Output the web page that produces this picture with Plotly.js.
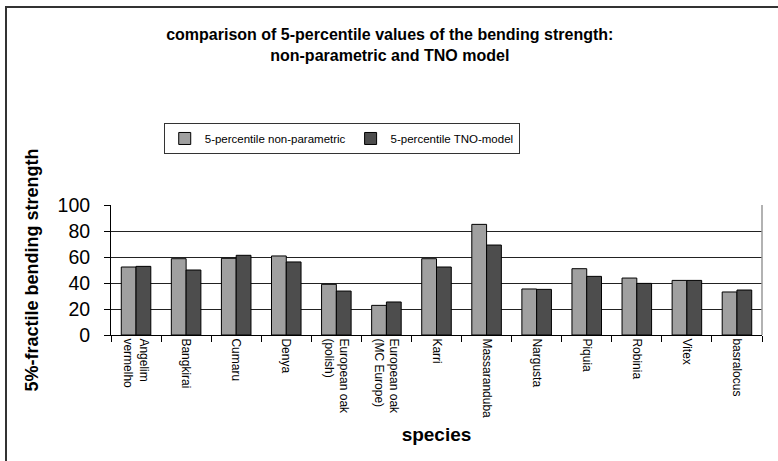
<!DOCTYPE html>
<html>
<head>
<meta charset="utf-8">
<script src="https://cdn.plot.ly/plotly-3.0.1.min.js"></script>
<style>
  html, body { margin: 0; padding: 0; background: #fff; overflow: hidden; }
  #wrap { position: relative; width: 778px; height: 461px; }
  #chart { position: absolute; left: 0; top: 0; width: 778px; height: 461px; }
  #frame { position: absolute; left: 5px; top: 6px; width: 800px; height: 500px;
           border-left: 2px solid #333; border-top: 2px solid #333; pointer-events: none; }
</style>
</head>
<body>
<div id="wrap">
  <div id="chart"></div>
  <div id="frame"></div>
</div>
<script>
const categories = [
  "Angelim<br>vermelho", "Bangkirai", "Cumaru", "Denya",
  "European oak<br>(polish)", "European oak<br>(MC Europe)", "Karri",
  "Massaranduba", "Nargusta", "Piquia", "Robinia", "Vitex", "basralocus"
];
const nonParametric = [52.3, 58.7, 59.0, 60.8, 39.0, 22.8, 58.7, 85.1, 35.4, 51.0, 43.8, 42.0, 33.1];
const tnoModel      = [52.8, 50.0, 61.3, 56.2, 33.8, 25.4, 52.3, 69.2, 35.1, 45.1, 39.7, 42.0, 34.6];
const seriesNames = ["5-percentile non-parametric", "5-percentile TNO-model"];
const yTicks = [0, 20, 40, 60, 80, 100];

const FONT = "Liberation Sans, Arial, sans-serif";

const traces = [
  { type: "bar", name: seriesNames[0], x: categories, y: nonParametric,
    marker: { color: "#a0a0a0", line: { color: "#000", width: 1 } } },
  { type: "bar", name: seriesNames[1], x: categories, y: tnoModel,
    marker: { color: "#4d4d4d", line: { color: "#000", width: 1 } } }
];

const layout = {
  width: 778, height: 461,
  margin: { l: 111, r: 16, t: 205, b: 126, pad: 0 },
  paper_bgcolor: "#fff", plot_bgcolor: "#fff",
  font: { family: FONT, color: "#000" },
  barmode: "group", bargap: 0.41, bargroupgap: 0,
  showlegend: true,
  title: {
    text: "<b>comparison of 5-percentile values of the bending strength:<br>non-parametric and TNO model</b>",
    font: { family: FONT, size: 16, color: "#000" },
    x: 0.501, xref: "container", xanchor: "center",
    y: 1 - 40 / 461, yref: "container", yanchor: "top"
  },
  legend: {
    orientation: "h", x: 0.081, xanchor: "left", y: 1.631, yanchor: "top",
    bordercolor: "#333", borderwidth: 1, bgcolor: "#fff",
    font: { family: FONT, size: 11.5, color: "#000" },
    itemwidth: 30, traceorder: "normal"
  },
  xaxis: {
    type: "category", tickangle: 90,
    tickfont: { family: FONT, size: 12, color: "#000" },
    ticks: "outside", ticklen: 6, tickcolor: "#000", tickson: "boundaries",
    showline: true, linecolor: "#000", linewidth: 1,
    showgrid: false, zeroline: false,
    title: { text: "<b>species</b>", font: { family: FONT, size: 19, color: "#000" }, standoff: 10 },
    automargin: false
  },
  yaxis: {
    range: [0, 100], tickvals: yTicks, ticktext: yTicks.map(String),
    tickfont: { family: FONT, size: 19.5, color: "#000" },
    ticks: "outside", ticklen: 6, tickcolor: "#000", ticklabelstandoff: 10,
    showline: true, linecolor: "#000", linewidth: 1,
    showgrid: true, gridcolor: "#222", gridwidth: 1,
    zeroline: false,
    title: { text: "<b>5%-fractile bending strength</b>", font: { family: FONT, size: 18, color: "#000" }, standoff: 14 },
    automargin: false
  },
  shapes: [
    { type: "line", xref: "paper", yref: "paper", x0: 1, x1: 1, y0: 0, y1: 1,
      line: { color: "#999", width: 1.5 } }
  ]
};

Plotly.newPlot("chart", traces, layout, { displayModeBar: false, staticPlot: true });
</script>
</body>
</html>
